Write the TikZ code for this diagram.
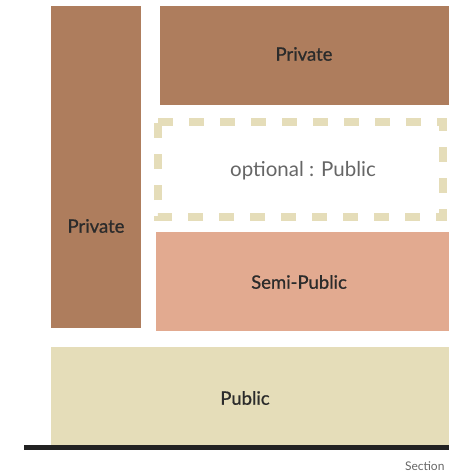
\documentclass[tikz,border=0pt]{standalone}
\usepackage{fontspec}
\setmainfont{Lato}
\newfontfamily\medfont{Lato}[FakeBold=0.8]
\definecolor{priv}{HTML}{AE7D5D}
\definecolor{semi}{HTML}{E2AA90}
\definecolor{pub}{HTML}{E5DDB9}
\definecolor{txt}{HTML}{2B2B2B}
\definecolor{opt}{HTML}{666666}
\begin{document}
\begin{tikzpicture}[x=1pt,y=-1pt,
  lbl/.style={font=\medfont\fontsize{18.5}{20}\selectfont,text=txt}]
\useasboundingbox (0,0) rectangle (449,472);
\fill[priv] (51,6) rectangle (141,328);
\node[lbl] (lp) at (96,226) {Private};
\fill[priv] (160,6) rectangle (449,105);
\node[lbl] (tp) at (304,54) {Private};
\draw[pub,line width=8pt,dash pattern=on 15pt off 16pt] (158,122) -- (443,122) -- (443,217) -- (158,217) -- cycle;
\node[lbl,font=\fontsize{20.5}{22}\selectfont,text=opt] (op) at (303,171) {optional : Public};
\fill[semi] (156,232) rectangle (449,331);
\node[lbl] (sp) at (299,282) {Semi-Public};
\fill[pub] (51,347) rectangle (449,445);
\node[lbl] (pu) at (245,398) {Public};
\fill[txt!80!black] (24,445) rectangle (449,450);
\node[font=\fontsize{12}{13}\selectfont,text=opt,anchor=east] (sec) at (448,466) {Section};
\end{tikzpicture}
\end{document}
